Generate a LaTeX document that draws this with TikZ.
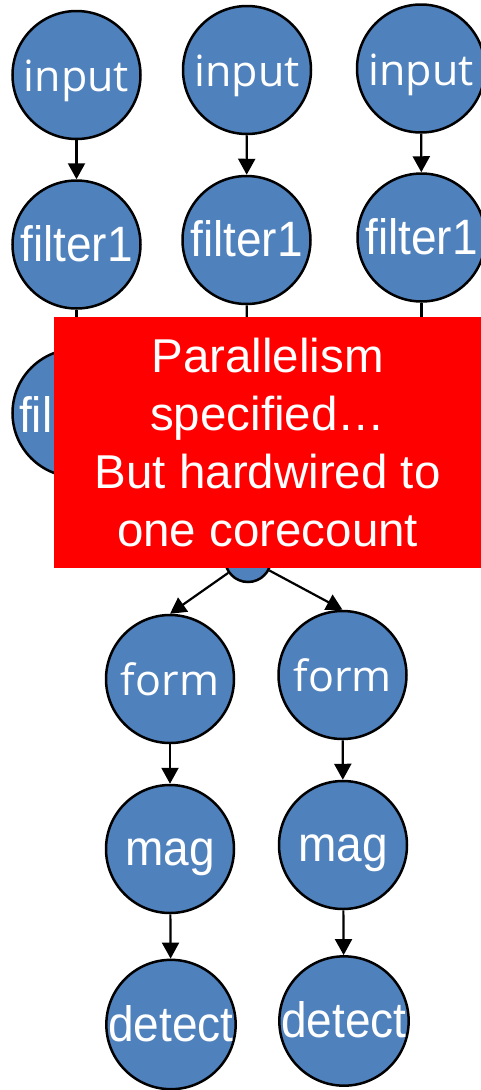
\documentclass[tikz,border=0pt]{standalone}
\usepackage{fontspec}
\usepackage{graphicx}
\setmainfont{Liberation Sans}
\newfontfamily\uifont{Open Sans}
\usetikzlibrary{arrows.meta}
\definecolor{nodeblue}{HTML}{4F81BD}
\definecolor{alertred}{HTML}{FF0000}
% slightly tall lettering used inside the stage circles
\newcommand{\stagetext}[1]{\scalebox{1}[1.08]{#1}}
\tikzset{
  x=1pt, y=-1pt,
  stage/.style={circle, draw=black, line width=2.5pt, fill=nodeblue,
    minimum size=128pt, inner sep=0pt, text=white,
    text height=33pt, text depth=0pt,
    font=\fontsize{46}{46}\selectfont},
  uistage/.style={stage, font=\uifont\fontsize{43}{43}\selectfont},
  joint/.style={circle, draw=black, line width=2.5pt, fill=nodeblue,
    minimum size=46pt, inner sep=0pt},
  flow/.style={line width=2.2pt, draw=black,
    -{Triangle[width=17pt,length=16pt]}},
  note/.style={fill=alertred, draw=none, text=white, align=center,
    font=\fontsize{47.5}{58}\selectfont}
}
\begin{document}
\begin{tikzpicture}
\useasboundingbox (0,0) rectangle (481,1090);

% three input pipelines
\node[uistage] (inA) at (76.5,75)  {input};
\node[uistage] (inB) at (247,70)   {input};
\node[uistage] (inC) at (421,68.5) {input};

\node[stage] (fA) at (76.5,244.5) {\stagetext{filter1}};
\node[stage] (fB) at (246.5,240)  {\stagetext{filter1}};
\node[stage] (fC) at (421.5,237.5){\stagetext{filter1}};

% second filter stage (mostly behind the note)
\node[stage] (gA) at (76.5,413) {};
\node[anchor=base west, inner sep=0pt, text=white,
  font=\fontsize{46}{46}\selectfont] (gAlabel) at (19,432) {\stagetext{fil}};
\node[stage] (gB) at (247,410) {};
\node[stage] (gC) at (421.5,408) {};

% split point
\node[joint] (split) at (248,559) {};

% two output pipelines
\node[uistage] (formL) at (170,679)   {form};
\node[uistage] (formR) at (342.5,675) {form};
\node[stage] (magL) at (170,849)   {\stagetext{mag}};
\node[stage] (magR) at (343,845)   {\stagetext{mag}};
\node[stage] (detL) at (171,1024.5){\stagetext{detect}};
\node[stage] (detR) at (344,1021)  {\stagetext{detect}};

\draw[flow] (inA) -- (fA);
\draw[flow] (inB) -- (fB);
\draw[flow] (inC) -- (fC);
\draw[flow] (fA) -- (gA);
\draw[flow] (fB) -- (gB);
\draw[flow] (fC) -- (gC);
\draw[flow] (split) -- (formL.north);
\draw[flow] (split) -- (formR.north);
\draw[flow] (formL) -- (magL);
\draw[flow] (formR) -- (magR);
\draw[flow] (magL) -- (detL);
\draw[flow] (magR) -- (detR);

% overlay note
\node[note, minimum width=427pt, minimum height=251pt, anchor=north west,
  inner sep=0pt] (remark) at (54,317)
  {Parallelism\\specified\ldots\\But hardwired to\\one corecount};
\end{tikzpicture}
\end{document}
